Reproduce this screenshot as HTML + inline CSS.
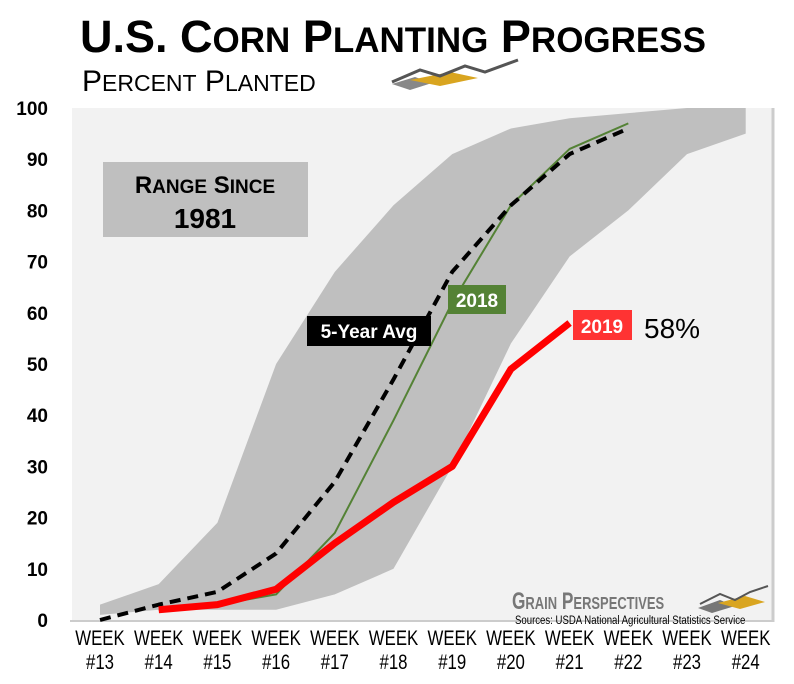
<!DOCTYPE html>
<html><head><meta charset="utf-8"><style>
body{margin:0;background:#fff;}
svg{display:block;font-family:"Liberation Sans",sans-serif;}
</style></head><body>
<svg id="chart" width="794" height="684" viewBox="0 0 794 684">
<text x="80" y="52" font-size="45" font-weight="bold">U.S. C<tspan font-size="35">ORN</tspan> P<tspan font-size="35">LANTING</tspan> P<tspan font-size="35">ROGRESS</tspan></text>
<text x="82" y="91" font-size="30">P<tspan font-size="23">ERCENT</tspan> P<tspan font-size="23">LANTED</tspan></text>
<g><polygon points="392,84 415,77 432,83 410,90" fill="#888"/><polygon points="410,80 450,72 478,78 440,86" fill="#d9a520"/><polyline points="392,82 420,70 440,76 465,66 485,72 518,60" fill="none" stroke="#555" stroke-width="3"/></g>
<rect x="72" y="108" width="701" height="512" fill="#f2f2f2"/>
<line x1="773" y1="108" x2="773" y2="622" stroke="#ccc" stroke-width="3"/>
<line x1="70" y1="621" x2="773" y2="621" stroke="#ccc" stroke-width="2"/>
<g id="band"></g><g id="lines"></g><g id="axes"></g>
<rect x="103" y="162" width="205" height="75" fill="#bfbfbf"/>
<text x="205" y="193" text-anchor="middle" font-size="24" font-weight="bold">R<tspan font-size="19">ANGE</tspan> S<tspan font-size="19">INCE</tspan></text>
<text x="205" y="228" text-anchor="middle" font-size="28" font-weight="bold">1981</text>
<rect x="307" y="316" width="124" height="30" fill="#000"/>
<text x="369" y="338" text-anchor="middle" fill="#fff" font-size="19" font-weight="bold">5-Year Avg</text>
<rect x="448" y="285" width="58" height="29" fill="#548235"/>
<text x="477" y="307" text-anchor="middle" fill="#fff" font-size="19" font-weight="bold">2018</text>
<rect x="573" y="310" width="59" height="30" fill="#ff3333"/>
<text x="602" y="333" text-anchor="middle" fill="#fff" font-size="19" font-weight="bold">2019</text>
<text x="644" y="338" font-size="28">58%</text>
<text x="512" y="609" font-size="24" font-weight="bold" fill="#777" transform="translate(512,0) scale(0.72,1) translate(-512,0)">G<tspan font-size="18">RAIN</tspan> P<tspan font-size="18">ERSPECTIVES</tspan></text>
<g><polygon points="698,608 720,600 735,606 712,613" fill="#777"/><polygon points="718,603 745,596 765,602 740,609" fill="#d9a520"/><polyline points="700,604 720,594 735,600 750,592 768,586" fill="none" stroke="#555" stroke-width="2"/></g>
<text x="515" y="624" font-size="12" transform="translate(515,0) scale(0.8,1) translate(-515,0)">Sources: USDA National Agricultural Statistics Service</text>
</svg>
<script>
const weeks=["#13","#14","#15","#16","#17","#18","#19","#20","#21","#22","#23","#24"];
const yTicks=[0,10,20,30,40,50,60,70,80,90,100];
const rangeMax=[3,7,19,50,68,81,91,96,98,99,100,100];
const rangeMin=[1,2,2,2,5,10,30,54,71,80,91,95];
const avg5=[0,3,5.5,13,27,47,68,81,91,96];
const y2018=[null,2,3,5,17,39,62,81,92,97];
const y2019=[null,2,3,6,15,23,30,49,58];
const NS="http://www.w3.org/2000/svg";
const X=i=>100+i*58.7, Y=v=>620-v*5.12;
function mk(t,a,p){const e=document.createElementNS(NS,t);for(const k in a)e.setAttribute(k,a[k]);p.appendChild(e);return e;}
const band=document.getElementById('band'),lines=document.getElementById('lines'),axes=document.getElementById('axes');
let pts=rangeMax.map((v,i)=>X(i)+','+Y(v));
for(let i=rangeMin.length-1;i>=0;i--)pts.push(X(i)+','+Y(rangeMin[i]));
const bp=mk('polygon',{points:pts.join(' '),fill:'#bfbfbf'},band);


function line(arr,attrs,name){const p=[];arr.forEach((v,i)=>{if(v!=null)p.push(X(i)+','+Y(v));});
const e=mk('polyline',Object.assign({points:p.join(' '),fill:'none','stroke-linejoin':'round'},attrs),lines);

}
line(y2018,{stroke:'#548235','stroke-width':2},'line-2018');
line(avg5,{stroke:'#000','stroke-width':4,'stroke-dasharray':'11 7'},'line-5-year-avg');
line(y2019,{stroke:'#ff0000','stroke-width':7},'line-2019');
yTicks.forEach(v=>{const t=mk('text',{x:48,y:Y(v)+7,'text-anchor':'end','font-size':19,'font-weight':'bold'},axes);t.textContent=v;

});
weeks.forEach((w,i)=>{const g=mk('text',{x:X(i),y:645,'text-anchor':'middle','font-size':21,transform:`translate(${X(i)},0) scale(0.8,1) translate(${-X(i)},0)`},axes);


mk('tspan',{x:X(i)},g).textContent='WEEK';
mk('tspan',{x:X(i),dy:24},g).textContent=w;});
</script>
</body></html>
